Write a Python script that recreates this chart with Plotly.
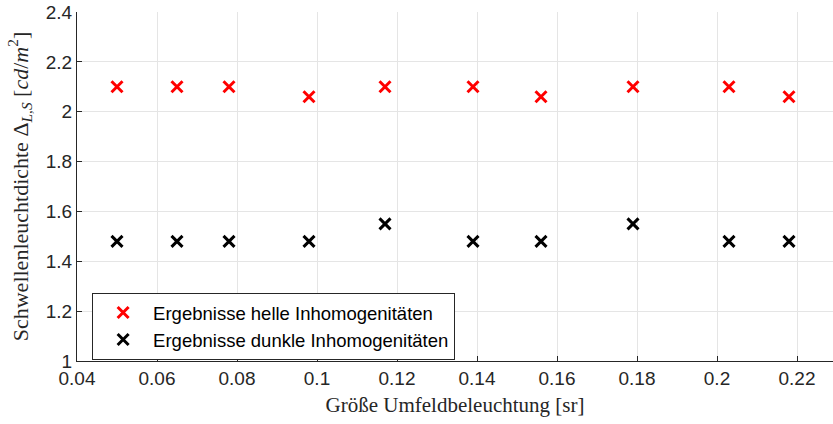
import plotly.graph_objects as go

groesse = [0.05, 0.065, 0.078, 0.098, 0.117, 0.139, 0.156, 0.179, 0.203, 0.218]
helle = [2.1, 2.1, 2.1, 2.06, 2.1, 2.1, 2.06, 2.1, 2.1, 2.06]
dunkle = [1.48, 1.48, 1.48, 1.48, 1.55, 1.48, 1.48, 1.55, 1.48, 1.48]

x_ticks = [0.04, 0.06, 0.08, 0.1, 0.12, 0.14, 0.16, 0.18, 0.2, 0.22]
y_ticks = [1, 1.2, 1.4, 1.6, 1.8, 2, 2.2, 2.4]

fig = go.Figure()
fig.add_trace(go.Scatter(
    x=groesse, y=helle, mode="markers", name="Ergebnisse helle Inhomogenitäten",
    marker=dict(symbol="x-thin", size=11, line=dict(width=3, color="#ff0000"), color="#ff0000"),
))
fig.add_trace(go.Scatter(
    x=groesse, y=dunkle, mode="markers", name="Ergebnisse dunkle Inhomogenitäten",
    marker=dict(symbol="x-thin", size=11, line=dict(width=3, color="#000000"), color="#000000"),
))

axis_common = dict(
    showgrid=True, gridcolor="#e5e5e5", gridwidth=1,
    showline=True, linecolor="#262626", linewidth=1,
    ticks="inside", ticklen=5, tickcolor="#262626",
    tickfont=dict(family="Liberation Sans, Arial", size=19, color="#262626"),
    zeroline=False, mirror=False, automargin=False,
    ticklabeloverflow="allow",
)

fig.update_xaxes(
    range=[0.04, 0.229], tickvals=x_ticks, ticktext=[f"{v:g}" for v in x_ticks],
    title=dict(text="Größe Umfeldbeleuchtung [sr]", standoff=9,
               font=dict(family="Liberation Serif, DejaVu Serif", size=21, color="#262626")),
    **axis_common,
)
fig.update_yaxes(
    range=[1, 2.4], tickvals=y_ticks, ticktext=[f"{v:g}" for v in y_ticks],
    title=dict(text="Schwellenleuchtdichte Δ<sub><i>L,S</i></sub> [<i>cd</i>/<i>m</i><sup>2</sup>]", standoff=11,
               font=dict(family="Liberation Serif, DejaVu Serif", size=22, color="#262626")),
    **axis_common,
)

fig.update_layout(
    width=833, height=424,
    margin=dict(l=77, r=0, t=12, b=63),
    plot_bgcolor="white", paper_bgcolor="white",
    showlegend=True,
    legend=dict(
        x=0.02, y=0.195, xanchor="left", yanchor="top",
        bgcolor="white", bordercolor="#262626", borderwidth=1,
        font=dict(family="Liberation Sans, Arial", size=18.5, color="#000000"),
        itemwidth=50, tracegroupgap=0,
    ),
)

# drop the default 8px body margin so the figure sits at the page corner
fig.write_html("out.html", config={"displayModeBar": False},
               post_script="document.body.style.margin = '0';")
